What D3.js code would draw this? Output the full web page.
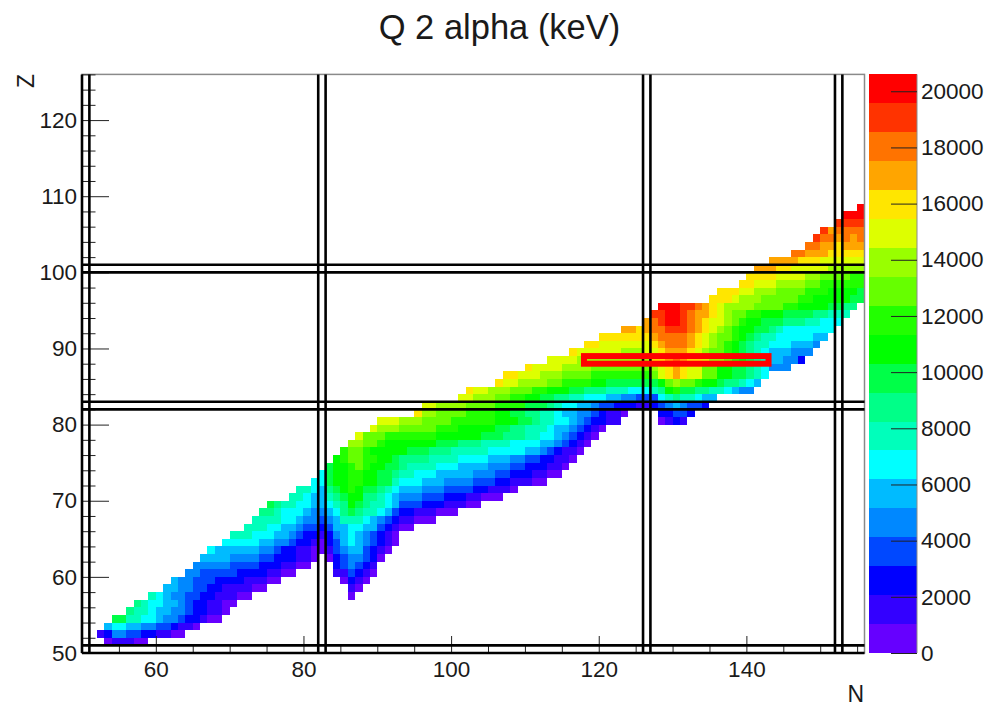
<!DOCTYPE html>
<html>
<head>
<meta charset="utf-8">
<script src="https://d3js.org/d3.v7.min.js"></script>
<style>
  html, body { margin: 0; padding: 0; background: #fff; }
  text { font-family: "Liberation Sans", Arial, sans-serif; fill: #1a1a1a; }
</style>
</head>
<body>
<div id="chart"></div>
<script>
// Q values in units of 100 keV, one list per Z row.
// _ = no cell between the two branches of a row.
var _ = null;

var q51 = [5,15,15,15,5,5];
var q52 = [15,25,45,45,35,35,25,25,15,15,5,5];
var q53 = [55,65,65,55,55,45,45,35,35,25,15,15,5];
var q54 = [95,95,75,75,65,65,55,45,45,35,25,25,15,5,5];
var q55 = [85,75,75,65,55,55,45,45,35,25,25,15,15,5];
var q56 = [85,75,65,65,55,55,45,35,25,25,15,15,5,5];
var q57 = [75,65,55,45,45,35,35,25,25,15,15,15,5,5,_,_,_,_,_,_,_,_,_,_,_,_,_,5];
var q58 = [55,55,45,45,35,35,25,25,15,15,15,15,5,5,_,_,_,_,_,_,_,_,_,_,_,15,5];
var q59 = [55,45,45,35,35,35,25,25,25,25,15,15,15,5,5,_,_,_,_,_,_,_,_,5,25,15,5];
var q60 = [45,45,35,35,35,35,35,25,25,25,25,15,15,5,5,_,_,_,_,_,15,15,35,25,15,5];
var q61 = [45,45,45,45,45,35,35,35,35,25,25,25,15,15,5,5,_,_,_,25,35,45,35,25,15];
var q62 = [55,55,55,55,45,45,45,45,35,35,25,25,25,15,15,5,_,5,25,35,45,45,35,25,5];
var q63 = [65,55,55,55,55,55,55,45,45,35,25,25,15,15,5,5,15,35,45,55,55,35,25,15,5];
var q64 = [65,65,65,65,65,55,55,45,45,35,25,25,15,5,25,35,55,65,55,45,35,25,15,5];
var q65 = [75,75,75,65,65,65,55,55,45,35,25,25,15,25,45,55,65,55,45,35,25,15,5];
var q66 = [75,75,75,65,65,55,55,45,35,35,25,35,55,55,65,65,55,55,35,25,15,5,5];
var q67 = [75,75,75,75,65,65,55,45,45,35,45,55,75,75,75,65,55,45,35,25,15,15,5,5,5];
var q68 = [85,85,75,65,65,65,55,45,45,55,65,85,95,85,75,75,65,55,35,25,25,15,15,15,5,5,5];
var q69 = [95,85,75,75,65,65,55,55,65,75,85,105,95,85,75,75,65,55,35,35,35,25,25,25,15,15,15,5,5];
var q70 = [75,75,65,55,55,75,85,95,105,105,85,85,75,65,55,45,45,45,35,35,35,25,25,25,15,15,5,5,5];
var q71 = [75,75,65,55,85,95,105,115,105,95,95,85,75,65,55,55,55,45,45,45,35,35,35,35,25,25,15,15,15,5];
var q72 = [65,65,95,105,105,115,115,105,105,95,95,75,65,65,65,55,55,55,45,45,45,45,35,35,35,25,25,15,15,15,5,5];
var q73 = [65,95,105,105,115,115,105,105,95,95,85,75,75,65,65,65,55,55,55,55,55,45,45,45,35,35,25,25,25,15,15,5,5];
var q74 = [95,105,105,115,125,115,105,105,95,95,85,75,75,75,75,65,65,65,55,55,55,55,45,45,45,35,35,25,25,25,15,15,5];
var q75 = [105,115,125,125,115,115,105,105,95,85,85,85,85,75,75,75,75,65,65,65,65,55,55,55,45,45,35,35,25,25,15,15,5];
var q76 = [115,125,125,115,105,105,105,105,105,95,95,95,85,85,85,75,75,75,75,75,65,65,65,65,65,55,55,45,35,25,15,15,5];
var q77 = [135,135,125,125,115,105,105,105,105,105,105,105,95,95,95,85,85,85,75,75,75,75,65,65,65,65,55,55,45,35,25,15,5];
var q78 = [145,125,125,125,115,115,115,115,115,115,115,105,105,105,105,105,105,95,95,95,85,85,85,75,75,65,65,55,45,35,25,15,5];
var q79 = [145,135,135,135,125,125,125,125,125,115,115,115,105,105,105,105,105,95,95,85,85,75,75,75,65,55,55,45,35,25,15,5];
var q80 = [145,145,145,135,135,135,125,125,125,125,115,115,115,115,115,115,105,105,105,95,95,85,75,75,65,65,55,45,35,25,25,15,15,_,_,_,_,_,5,15,25,15];
var q81 = [155,135,135,125,125,125,125,115,115,115,115,105,105,95,95,85,85,75,75,65,55,55,45,45,35,25,15,15,5,_,_,_,_,25,25,35,35,25];
var q82 = [145,145,135,135,135,135,125,125,125,125,115,115,115,115,95,95,95,85,75,65,65,55,55,45,35,35,25,25,25,15,15,25,35,45,55,45,35,35,25];
var q83 = [145,145,135,135,135,125,125,115,115,105,105,95,95,85,85,75,75,65,65,65,55,55,45,45,35,35,35,65,75,85,75,75,65,55,55];
var q84 = [155,145,145,135,135,135,125,125,125,115,115,105,105,105,95,95,85,85,85,75,75,75,65,65,65,75,85,105,115,95,95,85,85,75,75,65,55,45,45];
var q85 = [155,145,145,135,135,135,135,125,125,115,115,115,115,105,105,95,95,95,95,95,95,95,105,125,135,125,125,115,105,105,95,85,85,75,65,55];
var q86 = [155,155,145,145,145,135,135,135,125,125,125,125,115,115,115,115,115,115,115,115,125,145,155,165,155,145,145,125,125,105,105,95,95,85,75,65];
var q87 = [155,145,145,145,145,135,135,135,135,125,125,125,125,125,125,125,125,135,145,155,165,155,145,145,125,125,105,105,95,95,85,75,65,45,45,45];
var q88 = [145,145,145,145,135,135,135,135,135,135,135,135,135,135,155,155,165,176,165,155,155,145,135,135,125,115,105,95,85,75,55,55,45,45,25];
var q89 = [155,145,145,145,145,145,145,135,135,135,145,145,155,165,165,165,155,145,135,125,125,115,105,95,85,75,65,55,55,55,45,45,45];
var q90 = [155,155,145,145,145,145,145,145,145,155,165,176,176,176,165,155,145,135,125,115,105,95,85,75,75,65,65,65,55,55,55,45];
var q91 = [155,155,155,155,155,155,155,165,176,176,176,176,165,155,145,135,125,125,115,105,95,85,75,75,65,65,65,65,65,55,55];
var q92 = [165,165,155,165,176,176,190,190,190,176,165,155,145,135,125,115,105,105,95,95,85,75,65,65,65,65,65,65,65];
var q93 = [165,176,190,200,200,190,176,165,155,145,145,135,125,115,105,105,95,95,95,85,85,85,75,75,65,65,65];
var q94 = [190,190,200,200,190,176,165,165,155,145,135,125,125,115,115,105,105,105,95,95,95,95,85,85,75,75,75];
var q95 = [200,200,200,190,190,176,165,155,145,135,135,135,135,125,125,125,125,115,115,105,105,105,105,95,95,85,85];
var q96 = [155,155,155,145,135,135,135,125,125,125,125,125,115,115,105,105,105,105,105,95,95];
var q97 = [155,155,155,145,145,135,135,135,125,125,125,125,115,115,115,105,105,105,105,95];
var q98 = [155,155,145,145,145,135,135,135,135,125,125,115,115,115,115,115,115];
var q99 = [155,155,155,155,145,145,145,145,135,135,125,125,125,125,115,115];
var q100 = [165,165,165,155,155,145,145,145,145,145,135,135,135,135,135];
var q101 = [165,165,165,165,155,155,155,145,145,145,145,145,145];
var q102 = [176,176,165,165,165,155,155,155,155,155];
var q103 = [176,176,165,165,155,165,165,165];
var q104 = [190,176,176,165,176,165,176];
var q105 = [190,165,176,176,176,176];
var q106 = [190,190,190,190];
var q107 = [200,200,200];
var q108 = [200];

var qRows = [q51,q52,q53,q54,q55,q56,q57,q58,q59,q60,q61,q62,q63,q64,q65,q66,q67,q68,q69,q70,
  q71,q72,q73,q74,q75,q76,q77,q78,q79,q80,q81,q82,q83,q84,q85,q86,q87,q88,q89,q90,
  q91,q92,q93,q94,q95,q96,q97,q98,q99,q100,q101,q102,q103,q104,q105,q106,q107,q108];
var firstZ = 51;
// first N of each row above
var firstN = [53,52,53,54,56,57,59,61,62,64,65,66,67,69,70,72,73,74,75,78,
  79,81,82,83,84,85,86,87,89,90,95,96,101,102,106,107,110,113,116,118,
  120,123,126,127,128,135,136,139,140,141,143,146,148,149,150,152,153,155];

var palette = ["#6600ff","#3300ff","#0000ff","#0048ff","#0088ff","#00bbff","#00ffff","#00ffbb","#00ff88","#00ff48",
  "#00ff00","#22ff00","#66ff00","#99ff00","#ddff00","#ffe600","#ffa500","#ff7300","#ff3300","#ff0000"];
var qMax = 20600;

// magic numbers drawn as double lines, and the highlighted box
var magicN = [50, 51, 82, 83, 126, 127, 152, 153];
var magicZ = [50, 51, 82, 83, 100, 101];
var boxN = [118, 143];
var boxZ = [88, 89];

var xMajor = [60, 80, 100, 120, 140];
var xMinor = [55, 65, 70, 75, 85, 90, 95, 105, 110, 115, 125, 130, 135, 145, 150, 155];
var yMajor = [50, 60, 70, 80, 90, 100, 110, 120];
var yMinor = [52, 54, 56, 58, 62, 64, 66, 68, 72, 74, 76, 78, 82, 84, 86, 88, 92, 94, 96, 98,
  102, 104, 106, 108, 112, 114, 116, 118, 122, 124, 126];
var colorTicks = [0, 2000, 4000, 6000, 8000, 10000, 12000, 14000, 16000, 18000, 20000];

var width = 992, height = 706;
var frame = {left: 82, right: 864.5, top: 74.4, bottom: 653};

var svg = d3.select("#chart").append("svg")
  .attr("width", width)
  .attr("height", height)
  .style("display", "block");

var xScale = d3.scaleLinear().domain([50, 156]).range([frame.left, frame.right]);
var yScale = d3.scaleLinear().domain([50, 126]).range([frame.bottom, frame.top]);
var colorScale = d3.scaleQuantize().domain([0, qMax]).range(palette);

// flatten rows to cells
var cells = [];
qRows.forEach(function(row, i){
  row.forEach(function(q, j){
    if (q === null) return;
    cells.push({z: firstZ + i, n: firstN[i] + j, q: q * 100});
  });
});

svg.append("g").selectAll("rect")
  .data(cells)
  .enter().append("rect")
  .attr("x", function(d){ return xScale(d.n); })
  .attr("y", function(d){ return yScale(d.z + 1); })
  .attr("width", function(d){ return xScale(d.n + 1) - xScale(d.n); })
  .attr("height", function(d){ return yScale(d.z) - yScale(d.z + 1); })
  .attr("fill", function(d){ return colorScale(d.q); })
  .attr("shape-rendering", "crispEdges");

// frame
svg.append("rect")
  .attr("x", frame.left)
  .attr("y", frame.top)
  .attr("width", frame.right - frame.left)
  .attr("height", frame.bottom - frame.top)
  .attr("fill", "none")
  .attr("stroke", "#8a8a8a")
  .attr("stroke-width", 1.5);

// axes, inward ticks
var axisStyle = function(g){
  g.select(".domain").remove();
  g.selectAll("line").attr("stroke", "#222").attr("stroke-width", 1);
  g.selectAll("text").style("font-size", "22.5px").attr("fill", "#1a1a1a");
};

svg.append("g")
  .attr("transform", "translate(0," + frame.bottom + ")")
  .call(d3.axisBottom(xScale).tickValues(xMinor).tickFormat("").tickSizeInner(-8.5).tickSizeOuter(0))
  .call(axisStyle);
svg.append("g")
  .attr("transform", "translate(0," + frame.bottom + ")")
  .call(d3.axisBottom(xScale).tickValues(xMajor).tickFormat(d3.format("d")).tickSizeInner(-17).tickSizeOuter(0).tickPadding(8))
  .call(axisStyle);
svg.append("g")
  .attr("transform", "translate(" + frame.left + ",0)")
  .call(d3.axisLeft(yScale).tickValues(yMinor).tickFormat("").tickSizeInner(-13.5).tickSizeOuter(0))
  .call(axisStyle);
svg.append("g")
  .attr("transform", "translate(" + frame.left + ",0)")
  .call(d3.axisLeft(yScale).tickValues(yMajor).tickFormat(d3.format("d")).tickSizeInner(-27).tickSizeOuter(0).tickPadding(5))
  .call(axisStyle);

// double lines
svg.append("g").selectAll("line")
  .data(magicN)
  .enter().append("line")
  .attr("x1", function(d){ return xScale(d); })
  .attr("x2", function(d){ return xScale(d); })
  .attr("y1", frame.top)
  .attr("y2", frame.bottom)
  .attr("stroke", "#000")
  .attr("stroke-width", 2.6);
svg.append("g").selectAll("line")
  .data(magicZ)
  .enter().append("line")
  .attr("x1", frame.left)
  .attr("x2", frame.right)
  .attr("y1", function(d){ return yScale(d); })
  .attr("y2", function(d){ return yScale(d); })
  .attr("stroke", "#000")
  .attr("stroke-width", 2.6);

// red box
svg.append("rect")
  .attr("x", xScale(boxN[0]))
  .attr("y", yScale(boxZ[1]))
  .attr("width", xScale(boxN[1]) - xScale(boxN[0]))
  .attr("height", yScale(boxZ[0]) - yScale(boxZ[1]))
  .attr("fill", "none")
  .attr("stroke", "#ff0000")
  .attr("stroke-width", 6);

// colour bar
var barLeft = 869, barRight = 917;
var barScale = d3.scaleLinear().domain([0, qMax]).range([frame.bottom, frame.top]);
var edges = [0].concat(colorScale.thresholds());

svg.append("g").selectAll("rect")
  .data(edges)
  .enter().append("rect")
  .attr("x", barLeft)
  .attr("width", barRight - barLeft)
  .attr("y", function(d, i){ return barScale(i + 1 < edges.length ? edges[i + 1] : qMax); })
  .attr("height", function(d, i){ return barScale(d) - barScale(i + 1 < edges.length ? edges[i + 1] : qMax); })
  .attr("fill", function(d, i){ return palette[i]; })
  .attr("shape-rendering", "crispEdges");

svg.append("line")
  .attr("x1", barRight).attr("x2", barRight)
  .attr("y1", frame.top).attr("y2", frame.bottom)
  .attr("stroke", "#8a8a8a")
  .attr("stroke-width", 1);

svg.append("g")
  .attr("transform", "translate(" + barRight + ",0)")
  .call(d3.axisRight(barScale).tickValues(colorTicks).tickFormat(d3.format("d")).tickSizeInner(-26).tickSizeOuter(0).tickPadding(4))
  .call(axisStyle);

// titles
svg.append("text")
  .attr("x", 499.5)
  .attr("y", 39)
  .attr("text-anchor", "middle")
  .style("font-size", "34.5px")
  .text("Q 2 alpha (keV)");

svg.append("text")
  .attr("x", 864)
  .attr("y", 702)
  .attr("text-anchor", "end")
  .style("font-size", "23px")
  .text("N");

svg.append("text")
  .attr("transform", "translate(34,74) rotate(-90)")
  .attr("text-anchor", "end")
  .style("font-size", "23px")
  .text("Z");
</script>
</body>
</html>
